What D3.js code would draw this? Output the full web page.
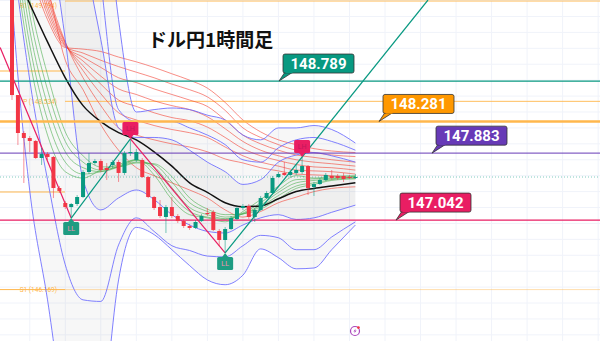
<!DOCTYPE html>
<html>
<head>
<meta charset="utf-8">
<script src="https://cdn.jsdelivr.net/npm/d3@7"></script>
<style>
  body { margin: 0; background: #fff; }
  svg { display: block; font-family: Roboto, "Noto Sans", sans-serif; }
</style>
</head>
<body>
<div id="chart"></div>
<script>
// ---- data (USD/JPY 1h) ----
// candles: [open, high, low, close]
const candles = [
  [149.995,150.058,148.551,148.613],[148.613,148.613,147.985,148.136],[148.136,148.161,147.508,148.073],
  [148.073,148.098,147.897,148.036],[148.036,148.048,147.810,147.822],[147.822,147.948,147.734,147.872],
  [147.872,147.897,147.797,147.835],[147.835,147.847,147.319,147.445],[147.445,147.470,147.382,147.408],
  [147.257,147.282,147.181,147.206],[147.206,147.257,147.068,147.244],[147.244,147.357,147.219,147.332],
  [147.332,147.671,147.319,147.646],[147.646,147.885,147.621,147.759],[147.759,147.810,147.734,147.784],
  [147.784,147.810,147.646,147.671],[147.696,147.759,147.546,147.671],[147.734,147.797,147.696,147.772],
  [147.772,147.797,147.521,147.634],[147.634,147.910,147.609,147.885],[147.885,148.061,147.847,147.897],
  [147.797,147.935,147.772,147.897],[147.797,147.822,147.571,147.583],[147.583,147.596,147.319,147.332],
  [147.332,147.345,147.169,147.194],[147.206,147.294,147.068,147.093],[147.081,147.232,146.880,147.206],
  [147.206,147.332,147.068,147.093],[147.093,147.118,147.005,147.030],[147.030,147.055,146.943,146.968],
  [146.968,146.993,146.918,146.943],[146.943,147.043,146.930,147.018],[147.030,147.118,147.018,147.093],
  [147.131,147.194,147.093,147.118],[147.144,147.169,146.905,146.918],[146.905,146.930,146.716,146.792],
  [146.792,146.955,146.629,146.930],[146.930,147.093,146.918,147.068],[147.055,147.219,147.043,147.194],
  [147.194,147.244,147.169,147.219],[147.219,147.244,147.055,147.081],[147.081,147.194,147.018,147.169],
  [147.169,147.345,147.156,147.319],[147.319,147.408,147.307,147.382],[147.382,147.596,147.370,147.571],
  [147.583,147.646,147.571,147.621],[147.634,147.772,147.596,147.609],[147.609,147.671,147.583,147.646],
  [147.634,147.734,147.609,147.671],[147.646,147.835,147.621,147.721],[147.721,147.734,147.357,147.445],
  [147.458,147.521,147.345,147.495],[147.495,147.571,147.483,147.546],[147.546,147.634,147.533,147.609],
  [147.596,147.671,147.546,147.571],[147.596,147.621,147.546,147.571],[147.596,147.634,147.521,147.558],
  [147.583,147.609,147.558,147.571],[147.571,147.621,147.558,147.583]
];

// indicator sample bars (bar index) shared by all indicator series
const indBars = [-2,0,3,6,9,12,15,18,21,24,27,30,33,36,39,42,45,48,51,54,58];

const smaLine = [150.56,150.25,149.76,149.28,148.83,148.48,148.28,148.14,148.05,147.90,147.72,147.51,147.39,147.26,147.21,147.22,147.31,147.40,147.44,147.47,147.51];
const bbUpper3 = [154.84,154.84,154.84,154.84,154.21,153.33,151.69,149.56,148.40,148.43,148.45,148.43,148.36,148.30,148.11,148.05,148.20,148.20,148.23,148.18,148.01];
const bbUpper2 = [154.21,154.21,154.21,153.96,153.33,152.32,150.06,148.43,148.28,148.28,148.28,148.20,148.11,147.99,147.80,147.77,147.95,148.05,148.08,148.03,147.92];
const bbUpper1 = [153.58,153.58,153.33,152.32,151.44,150.44,149.31,148.20,148.08,148.08,148.05,147.92,147.77,147.65,147.49,147.55,147.77,147.86,147.89,147.85,147.77];
const bbLower1 = [153.58,152.95,152.07,150.81,149.31,147.55,147.17,147.32,147.42,147.30,147.11,146.98,146.90,146.88,146.98,147.07,147.11,147.05,147.07,147.14,147.23];
const bbLower2 = [152.32,150.56,148.80,147.55,146.48,146.04,146.02,146.73,147.07,146.90,146.72,146.66,146.59,146.58,146.72,146.85,146.82,146.67,146.67,146.83,147.02];
const bbLower3 = [152.32,149.81,147.41,146.04,144.53,143.78,144.41,146.29,146.95,146.86,146.67,146.47,146.29,146.23,146.35,146.68,146.57,146.43,146.44,146.67,146.98];

const emaLong = [
  [151.32,150.81,150.18,149.56,149.21,149.19,149.16,149.09,149.03,148.96,148.88,148.80,148.70,148.52,148.30,148.15,148.05,147.99,147.94,147.91,147.89],
  [151.57,151.00,150.31,149.62,149.22,149.14,149.05,148.97,148.90,148.83,148.75,148.68,148.59,148.42,148.20,148.08,147.99,147.92,147.89,147.86,147.84],
  [151.82,151.19,150.44,149.68,149.23,149.09,148.96,148.83,148.77,148.69,148.62,148.55,148.47,148.30,148.11,148.00,147.92,147.86,147.83,147.80,147.77],
  [152.07,151.38,150.56,149.74,149.24,149.04,148.85,148.69,148.62,148.54,148.48,148.43,148.34,148.19,148.03,147.92,147.85,147.80,147.77,147.75,147.72],
  [152.32,151.57,150.69,149.81,149.26,148.98,148.75,148.55,148.47,148.39,148.33,148.29,148.21,148.08,147.94,147.85,147.79,147.74,147.71,147.70,147.67],
  [152.57,151.76,150.81,149.87,149.27,148.92,148.63,148.39,148.30,148.23,148.18,148.14,148.08,147.96,147.85,147.77,147.72,147.67,147.66,147.65,147.62],
  [152.82,151.95,150.94,149.94,149.28,148.83,148.48,148.20,148.11,148.05,148.00,147.96,147.90,147.81,147.76,147.70,147.66,147.62,147.61,147.60,147.57],
  [152.32,151.44,150.31,149.94,149.05,148.68,148.24,147.92,147.70,147.60,147.51,147.42,147.32,147.17,147.08,147.15,147.26,147.33,147.40,147.44,147.46]
];
const emaShort = [
  [151.69,150.56,149.05,148.11,147.65,147.57,147.67,147.74,147.80,147.61,147.30,147.11,147.07,147.02,147.15,147.30,147.47,147.60,147.57,147.59,147.60],
  [151.82,150.75,149.24,148.30,147.77,147.62,147.65,147.72,147.80,147.67,147.36,147.15,147.08,147.05,147.13,147.26,147.42,147.55,147.56,147.57,147.59],
  [151.95,150.94,149.43,148.49,147.90,147.70,147.65,147.71,147.79,147.71,147.45,147.20,147.11,147.06,147.12,147.23,147.39,147.51,147.54,147.56,147.59],
  [152.07,151.13,149.62,148.68,148.03,147.77,147.67,147.71,147.77,147.74,147.52,147.26,147.15,147.08,147.12,147.21,147.35,147.47,147.51,147.55,147.57],
  [152.20,151.32,149.81,148.87,148.15,147.85,147.71,147.71,147.76,147.75,147.59,147.32,147.18,147.11,147.12,147.18,147.31,147.44,147.49,147.54,147.56]
];

// swing points: [bar, price, type]
const swings = [[-2,149.21,""],[10,147.068,"LL"],[20,148.061,"LH"],[36,146.629,"LL"],[49,147.835,"LH"]];

// levels
const levelPrices = [148.789, 148.281, 147.883, 147.042];
const levelColors = ["#089981", "#ff9800", "#673ab7", "#e91e63"];
const lastPrice = 147.583;

// pivot points
const pivotNames = ["R1", "P", "S1"];
const pivotPrices = [149.794, 148.534, 146.169];
const prevPivotPrices = [148.915, 147.395, 146.169];

const title = "ドル円1時間足";

// ---- chart ----
const W = 600, H = 341;
const x = d3.scaleLinear().domain([0, 58]).range([12, 355.4]);
const y = d3.scaleLinear().domain([145.523, 149.807]).range([H, 0]);

const svg = d3.select("#chart").append("svg").attr("width", W).attr("height", H);

// grid
const gGrid = svg.append("g");
gGrid.selectAll("line.h").data(d3.range(145.6, 149.81, 0.2)).join("line")
  .attr("x1", 0).attr("x2", W).attr("y1", d => y(d)).attr("y2", d => y(d))
  .attr("stroke", "#f0f3fa").attr("stroke-width", 1);
gGrid.selectAll("line.v").data(d3.range(3, 100, 6)).join("line")
  .attr("x1", d => x(d)).attr("x2", d => x(d)).attr("y1", 0).attr("y2", H)
  .attr("stroke", "#f0f3fa").attr("stroke-width", 1);

const pts = arr => indBars.map((b, k) => [b, arr[k]]);
const line = d3.line().x(d => x(d[0])).y(d => y(d[1])).curve(d3.curveMonotoneX);
const area = (a, b) => d3.area().x(d => x(d[0])).y0(d => y(d[1])).y1(d => y(d[2])).curve(d3.curveMonotoneX)
  (indBars.map((bb, k) => [bb, a[k], b[k]]));

// band fills
svg.append("path").attr("d", area(bbUpper3, bbLower3)).attr("fill", "#000").attr("fill-opacity", 0.03);
svg.append("path").attr("d", area(bbUpper1, bbLower1)).attr("fill", "#000").attr("fill-opacity", 0.03);

// pivot lines
const pivotColor = "#ffb74d";
const gPiv = svg.append("g");
pivotPrices.forEach((p, k) => {
  gPiv.append("line").attr("x1", 65).attr("x2", W).attr("y1", y(p)).attr("y2", y(p))
    .attr("stroke", pivotColor).attr("stroke-opacity", k === 2 ? 0.45 : 0.9).attr("stroke-width", 1);
  gPiv.append("text").attr("x", 57).attr("y", Math.max(y(p) + 2.5, 7.5)).attr("text-anchor", "end")
    .attr("font-size", 6.5).attr("fill", pivotColor).text(`${pivotNames[k]} (${p.toFixed(3)})`);
});
prevPivotPrices.forEach(p => {
  gPiv.append("line").attr("x1", 0).attr("x2", 65).attr("y1", y(p)).attr("y2", y(p))
    .attr("stroke", pivotColor).attr("stroke-width", 1);
});

// indicators
const gInd = svg.append("g").attr("fill", "none");
emaLong.forEach(s => gInd.append("path").attr("d", line(pts(s))).attr("stroke", "#f44336").attr("stroke-opacity", 0.6).attr("stroke-width", 1));
emaShort.forEach(s => gInd.append("path").attr("d", line(pts(s))).attr("stroke", "#4caf50").attr("stroke-opacity", 0.6).attr("stroke-width", 1));
[bbUpper3, bbUpper2, bbUpper1, bbLower1, bbLower2, bbLower3].forEach(s =>
  gInd.append("path").attr("d", line(pts(s))).attr("stroke", "#6a6aff").attr("stroke-opacity", 0.85).attr("stroke-width", 1));
gInd.append("path").attr("d", line(pts(smaLine))).attr("stroke", "#111").attr("stroke-width", 1.5);

// horizontal levels
const gLev = svg.append("g");
levelPrices.forEach((p, k) => {
  gLev.append("line").attr("x1", 0).attr("x2", W).attr("y1", y(p)).attr("y2", y(p))
    .attr("stroke", k === 1 ? "#ffb74d" : levelColors[k]).attr("stroke-width", k === 1 ? 2.5 : 1.3)
    .attr("stroke-opacity", k === 2 ? 0.8 : 1);
});
gLev.append("line").attr("x1", 0).attr("x2", W).attr("y1", y(lastPrice)).attr("y2", y(lastPrice))
  .attr("stroke", "#089981").attr("stroke-opacity", 0.5).attr("stroke-dasharray", "1,2");

// zigzag trend lines
const gZig = svg.append("g");
for (let k = 0; k < swings.length - 1; k++) {
  const a = swings[k], b = swings[k + 1];
  let x2 = x(b[0]), y2 = y(b[1]);
  if (k === swings.length - 2) { // last leg extended
    const t = (0 - y(a[1])) / (y2 - y(a[1]));
    x2 = x(a[0]) + (x2 - x(a[0])) * t; y2 = 0;
  }
  gZig.append("line").attr("x1", x(a[0])).attr("y1", y(a[1])).attr("x2", x2).attr("y2", y2)
    .attr("stroke", b[1] > a[1] ? "#089981" : "#e91e63").attr("stroke-width", 1.2);
}

// candles
const up = "#089981", dn = "#f23645";
const bars = candles.map((c, i) => ({ i, o: c[0], h: c[1], l: c[2], c: c[3] }));
const gC = svg.append("g");
gC.selectAll("line").data(bars).join("line")
  .attr("x1", d => x(d.i)).attr("x2", d => x(d.i)).attr("y1", d => y(d.h)).attr("y2", d => y(d.l))
  .attr("stroke", d => d.c >= d.o ? up : dn).attr("stroke-opacity", 0.55);
gC.selectAll("rect").data(bars).join("rect")
  .attr("x", d => x(d.i) - 2).attr("width", 4)
  .attr("y", d => y(Math.max(d.o, d.c))).attr("height", d => Math.max(1, Math.abs(y(d.o) - y(d.c))))
  .attr("fill", d => d.c >= d.o ? up : dn);

// swing markers
const gM = svg.append("g");
swings.filter(s => s[2]).forEach(s => {
  const cx = x(s[0]), cy = y(s[1]);
  const low = s[2] === "LL";
  const fill = low ? "#1e9c82" : "#e91e63";
  const by = low ? cy + 4 : cy - 17;
  gM.append("rect").attr("x", cx - 8).attr("y", by).attr("width", 16).attr("height", 13).attr("rx", 1.5).attr("fill", fill);
  gM.append("path").attr("d", low ? `M${cx - 3},${by} L${cx},${cy} L${cx + 3},${by}Z` : `M${cx - 3},${by + 13} L${cx},${cy} L${cx + 3},${by + 13}Z`).attr("fill", fill);
  gM.append("text").attr("x", cx).attr("y", by + 9).attr("text-anchor", "middle").attr("font-size", 7)
    .attr("fill", low ? "#f48fb1" : "#c2185b").text(s[2]);
});

// price labels
const tips = [279, 379, 432, 396];
const gL = svg.append("g");
levelPrices.forEach((p, k) => {
  const tx = tips[k], ty = y(p);
  const bx = tx + 4, bw = 71, bh = 19, byy = ty - 8 - bh;
  gL.append("path").attr("d", `M${bx + 2},${byy + bh - 1} L${tx},${ty} L${bx + 10},${byy + bh - 1}Z`)
    .attr("fill", levelColors[k]).attr("stroke", "#333").attr("stroke-width", 0.8);
  gL.append("rect").attr("x", bx).attr("y", byy).attr("width", bw).attr("height", bh).attr("rx", 2)
    .attr("fill", levelColors[k]).attr("stroke", "#333").attr("stroke-width", 0.8);
  gL.append("path").attr("d", `M${bx + 2.5},${byy + bh - 0.5} L${bx + 9.5},${byy + bh - 0.5}`).attr("stroke", levelColors[k]).attr("stroke-width", 1.4);
  gL.append("text").attr("x", bx + bw / 2).attr("y", byy + 15).attr("text-anchor", "middle")
    .attr("font-size", 15).attr("font-weight", "bold").attr("fill", "#fff").text(p.toFixed(3));
});

// title
svg.append("text").attr("x", 148).attr("y", 47).attr("font-size", 19).attr("font-weight", "bold")
  .attr("font-family", "'Noto Sans CJK JP', sans-serif").attr("fill", "#111").text(title);

// event icon
const ic = svg.append("g").attr("transform", "translate(355,331)");
ic.append("circle").attr("r", 4.5).attr("fill", "#fff").attr("stroke", "#ab47bc").attr("stroke-width", 1.2);
ic.append("path").attr("d", "M0.8,-2.6 L-1.6,0.4 L0,0.4 L-0.8,2.6 L1.6,-0.4 L0,-0.4Z").attr("fill", "#ab47bc");
ic.append("circle").attr("cx", 3.4).attr("cy", -3.4).attr("r", 1.4).attr("fill", "#f23645");
</script>
</body>
</html>
